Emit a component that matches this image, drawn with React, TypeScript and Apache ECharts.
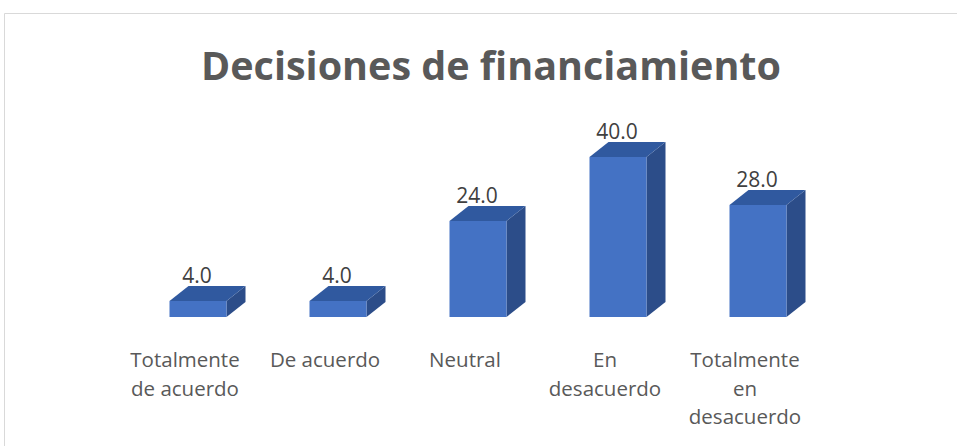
import React, { useEffect, useRef } from "react";
import * as echarts from "echarts";

const categories = [
  "Totalmente\nde acuerdo",
  "De acuerdo",
  "Neutral",
  "En\ndesacuerdo",
  "Totalmente\nen\ndesacuerdo",
];
const values = [4.0, 4.0, 24.0, 40.0, 28.0];
const titleText = "Decisiones de financiamiento";

export default function App() {
  const ref = useRef<HTMLDivElement>(null);
  useEffect(() => {
    if (!ref.current) return;
    const chart = echarts.init(ref.current, null, { renderer: "svg" });
    const FRONT_W = 57;
    const OFFSET_X = 13;
    const DX = 19;
    const DY = -15;
    chart.setOption({
      animation: false,
      backgroundColor: "#ffffff",
      title: {
        text: titleText,
        left: 196,
        top: 40,
        textStyle: {
          fontFamily: "Open Sans",
          fontWeight: "bold",
          fontSize: 39.5,
          color: "#595959",
        },
      },
      graphic: [
        {
          type: "rect",
          shape: { x: 4.5, y: 13.5, width: 970, height: 450 },
          style: { fill: "none", stroke: "#d9d9d9", lineWidth: 1 },
          silent: true,
        },
      ],
      grid: { left: 115, right: 142, top: 157, bottom: 129 },
      xAxis: {
        type: "category",
        data: categories,
        axisLine: { show: false },
        axisTick: { show: false },
        axisLabel: {
          interval: 0,
          margin: 28,
          fontFamily: "Open Sans",
          fontSize: 20.5,
          lineHeight: 28.5,
          color: "#595959",
        },
      },
      yAxis: {
        type: "value",
        min: 0,
        max: 40,
        show: false,
        splitLine: { show: false },
      },
      series: [
        {
          type: "custom",
          data: values.map((v, i) => [i, v]),
          encode: { x: 0, y: 1 },
          renderItem: (params: any, api: any) => {
            const idx = api.value(0);
            const val = api.value(1);
            const top = api.coord([idx, val]);
            const base = api.coord([idx, 0]);
            const cx = top[0] + OFFSET_X;
            const x0 = cx - FRONT_W / 2;
            const x1 = cx + FRONT_W / 2;
            const yt = top[1];
            const yb = base[1];
            return {
              type: "group",
              children: [
                {
                  type: "polygon",
                  shape: {
                    points: [
                      [x1, yt],
                      [x1 + DX, yt + DY],
                      [x1 + DX, yb + DY],
                      [x1, yb],
                    ],
                  },
                  style: { fill: "#2c4d89" },
                },
                {
                  type: "polygon",
                  shape: {
                    points: [
                      [x0, yt],
                      [x0 + DX, yt + DY],
                      [x1 + DX, yt + DY],
                      [x1, yt],
                    ],
                  },
                  style: { fill: "#30599f" },
                },
                {
                  type: "rect",
                  shape: { x: x0, y: yt, width: FRONT_W, height: yb - yt },
                  style: { fill: "#4472c4" },
                },
                {
                  type: "text",
                  style: {
                    text: val.toFixed(1),
                    x: cx - 1,
                    y: yt + DY - 1,
                    align: "center",
                    verticalAlign: "bottom",
                    fontFamily: "Open Sans",
                    fontSize: 21,
                    fill: "#404040",
                  },
                },
              ],
            };
          },
        },
      ],
    });
    return () => chart.dispose();
  }, []);
  return (
    <div
      ref={ref}
      style={{ position: "fixed", left: 0, top: 0, width: 957, height: 446 }}
    />
  );
}
